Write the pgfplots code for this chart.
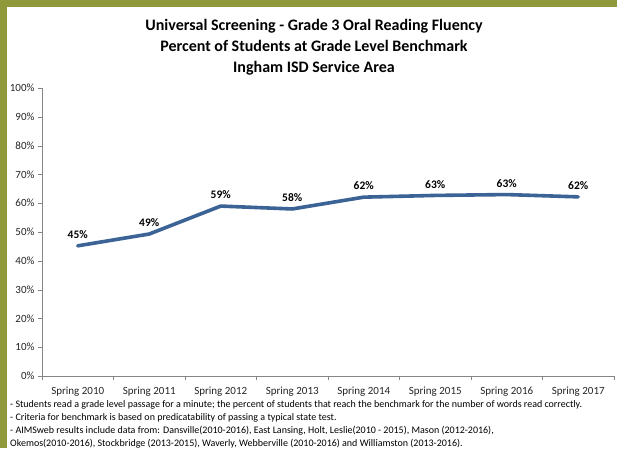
\documentclass[border=0pt]{standalone}
\usepackage{pgfplots}
\pgfplotsset{compat=1.18}
\usepackage{fontspec}
\setmainfont{Carlito}
\definecolor{olive}{RGB}{144,153,58}
\definecolor{lineblue}{RGB}{59,99,149}
\definecolor{axgray}{RGB}{134,134,134}
\begin{document}
\begin{tikzpicture}[x=1pt,y=1pt]
\fill[olive] (0,0) rectangle (617,448);
\fill[white] (7,0) rectangle (617,441);
\node[font=\fontsize{16}{21}\selectfont\bfseries, align=center] at (314,400.5) {Universal Screening - Grade 3 Oral Reading Fluency\\Percent of Students at Grade Level Benchmark\\Ingham ISD Service Area};
\begin{axis}[
  at={(42pt,72pt)}, anchor=south west,
  scale only axis, width=572pt, height=288pt,
  xmin=-0.5, xmax=7.5, ymin=0, ymax=100,
  axis x line=bottom, axis y line=left,
  axis line style={draw=axgray, -},
  xtick={0,...,7},
  xticklabels={Spring 2010,Spring 2011,Spring 2012,Spring 2013,Spring 2014,Spring 2015,Spring 2016,Spring 2017},
  major x tick style={draw=none},
  minor xtick={-0.5,0.5,...,7.5},
  minor tick length=4pt,
  ytick={0,10,...,100},
  yticklabel={\pgfmathprintnumber{\tick}\%},
  major tick length=4pt,
  tick align=outside,
  tick style={draw=axgray},
  /pgf/number format/assume math mode=true,
  ticklabel style={font=\fontsize{11}{12}\selectfont, text=black!85},
  xticklabel style={yshift=-3pt},
  clip=false,
  nodes near coords={\pgfmathprintnumber[fixed,precision=0]{\pgfplotspointmeta}\%},
  nodes near coords style={font=\fontsize{11.5}{12}\selectfont\bfseries, text=black, anchor=south, yshift=2pt},
  point meta=explicit,
]
\addplot[lineblue, line width=3.6pt, line cap=round, line join=round, mark=none] coordinates {
 (0,45.2) [45] (1,49.3) [49] (2,59.0) [59] (3,58.0) [58] (4,62.1) [62] (5,62.7) [63] (6,63.0) [63] (7,62.2) [62]
};
\end{axis}
\node[anchor=base west, align=left, font=\fontsize{10}{12.7}\selectfont, inner sep=0pt] at (10,2) {- Students read a grade level passage for a minute; the percent of students that reach the benchmark for the number of words read correctly.\\- Criteria for benchmark is based on predicatability of passing a typical state test.\\- AIMSweb results include data from: Dansville(2010-2016), East Lansing, Holt, Leslie(2010 - 2015), Mason (2012-2016),\\Okemos(2010-2016), Stockbridge (2013-2015), Waverly, Webberville (2010-2016) and Williamston (2013-2016).};
\end{tikzpicture}
\end{document}
